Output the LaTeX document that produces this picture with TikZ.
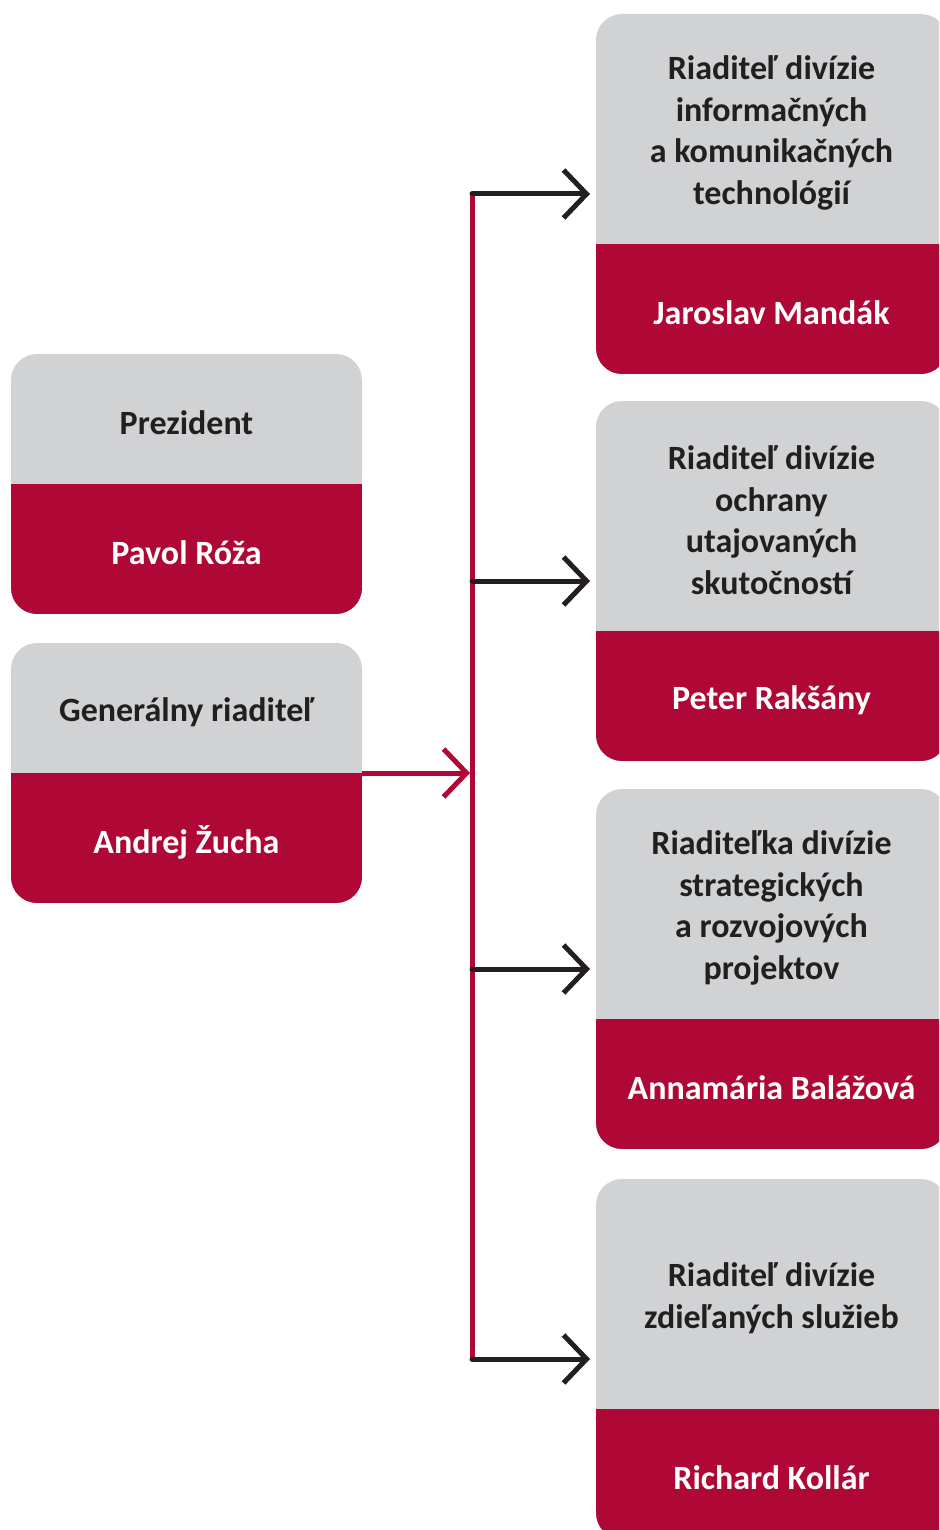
\documentclass[tikz,border=0pt]{standalone}
\usepackage{fontspec}
\setmainfont{Carlito}
\usetikzlibrary{arrows.meta,positioning}
\definecolor{cardgray}{RGB}{209,210,212}
\definecolor{cardred}{RGB}{176,8,54}
\definecolor{ink}{RGB}{35,31,32}

\begin{document}
\begin{tikzpicture}[x=1pt,y=-1pt,>={Straight Barb[length=23pt,width=48pt]},line width=5pt,line cap=round,
    card/.style={rectangle,rounded corners=26pt,fill=cardgray,minimum width=351pt,inner sep=0pt,outer sep=0pt,
      path picture={\fill[cardred,sharp corners] (path picture bounding box.south west) rectangle ([yshift=130pt]path picture bounding box.south east);}},
    small/.style={card,minimum height=260pt},
    big/.style={card,minimum height=360pt},
    role/.style={align=center,text=ink,font=\bfseries\fontsize{34}{41.5}\selectfont},
    who/.style={text=white,font=\bfseries\fontsize{34}{41.5}\selectfont}]

    \clip (0,0) rectangle (939,1530);

    % left column
    \node[small] (prez) at (186.5,484) {};
    \node[small] (gen) [below=29pt of prez] {};

    % right column
    \node[big] (c1) at (771.5,194) {};
    \node[big] (c2) [below=27pt of c1] {};
    \node[big] (c3) [below=28pt of c2] {};
    \node[big] (c4) [below=30pt of c3] {};

    \node[role] (prezrole) at ([yshift=61pt]prez.center) {Prezident};
    \node[who] (prezname) at ([yshift=-69pt]prez.center) {Pavol Róža};
    \node[role] (genrole) at ([yshift=61pt]gen.center) {Generálny riaditeľ};
    \node[who] (genname) at ([yshift=-69pt]gen.center) {Andrej Žucha};

    \node[role] (r1) at ([yshift=61pt]c1.center) {Riaditeľ divízie\\informačných\\a komunikačných\\technológií};
    \node[who] (n1) at ([yshift=-119pt]c1.center) {Jaroslav Mandák};
    \node[role] (r2) at ([yshift=61pt]c2.center) {Riaditeľ divízie\\ochrany\\utajovaných\\skutočností};
    \node[who] (n2) at ([yshift=-119pt]c2.center) {Peter Rakšány};
    \node[role] (r3) at ([yshift=61pt]c3.center) {Riaditeľka divízie\\strategických\\a rozvojových\\projektov};
    \node[who] (n3) at ([yshift=-119pt]c3.center) {Annamária Balážová};
    \node[role] (r4) at ([yshift=61pt]c4.center) {Riaditeľ divízie\\zdieľaných služieb};
    \node[who] (n4) at ([yshift=-119pt]c4.center) {Richard Kollár};

    % connectors
    \coordinate (bus) at (472,0);
    \draw[cardred,line cap=butt] (bus |- c1) -- (bus |- c4);
    \draw[cardred,->,shorten >=2pt,line cap=butt] (gen.east) -- (bus |- gen);

    \path[->,color=ink,shorten >=6pt] (bus |- c1) edge (c1.west)
                                      (bus |- c2) edge (c2.west)
                                      (bus |- c3) edge (c3.west)
                                      (bus |- c4) edge (c4.west);
\end{tikzpicture}
\end{document}
